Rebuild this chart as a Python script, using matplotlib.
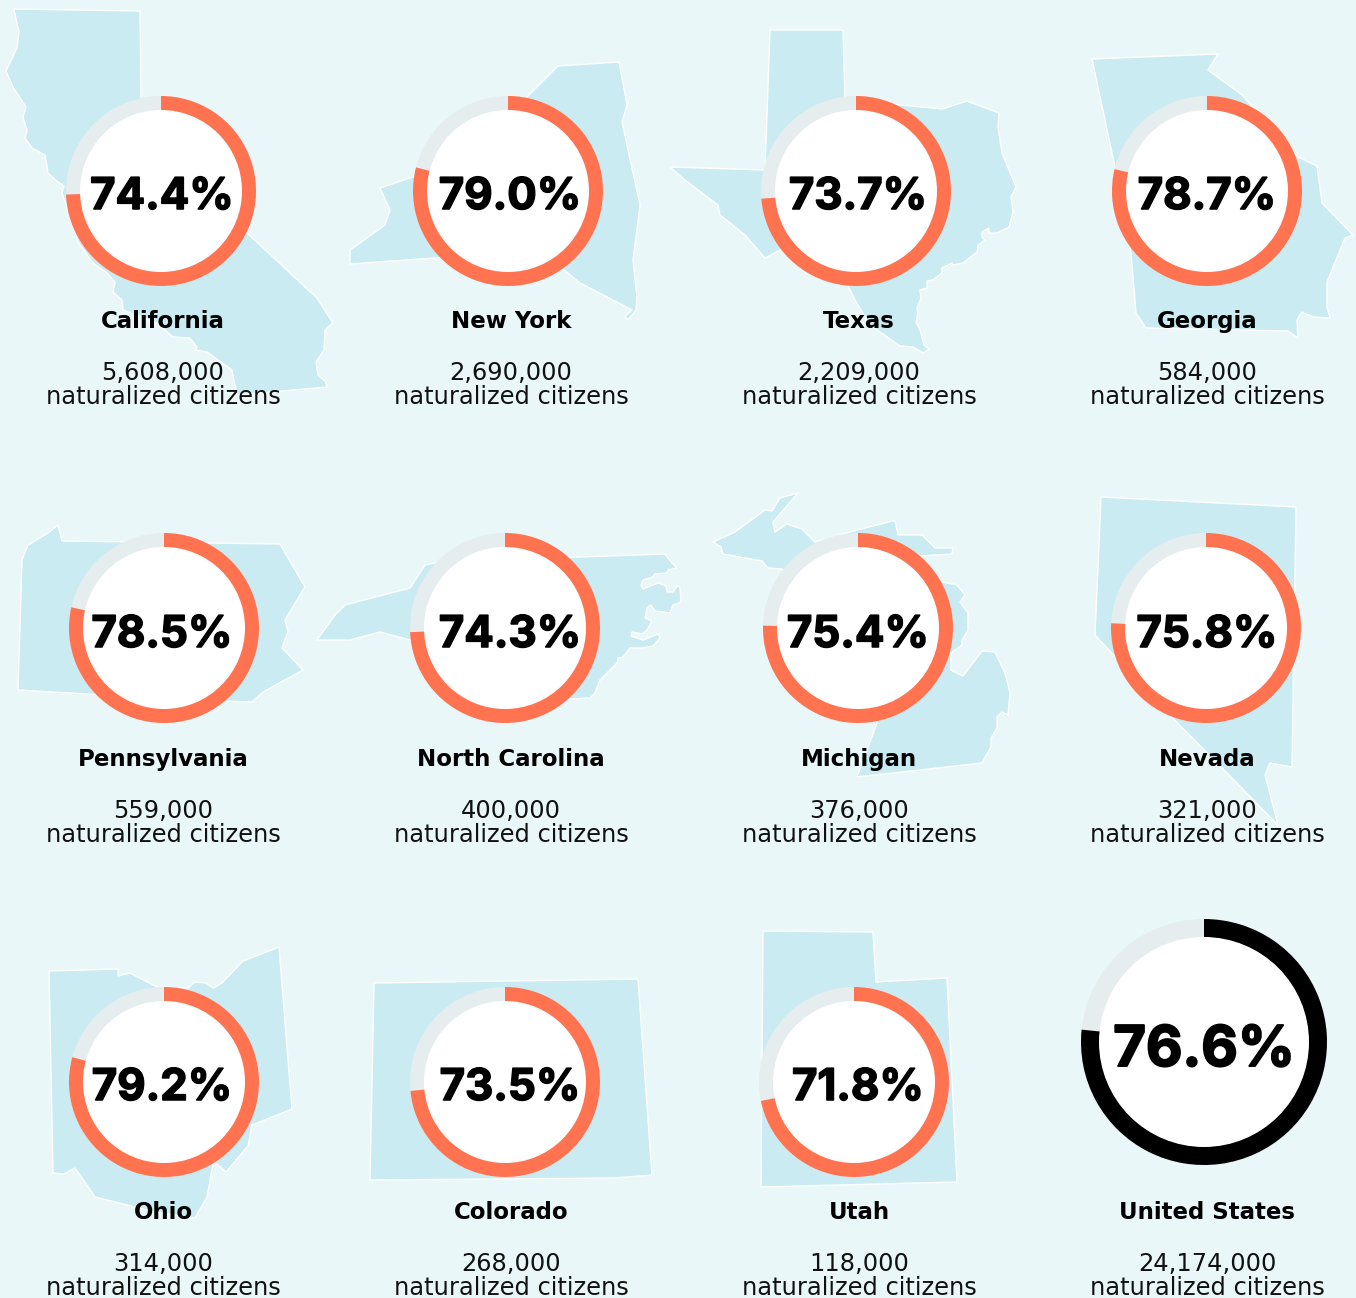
import matplotlib
matplotlib.use("Agg")
import matplotlib.pyplot as plt
from matplotlib.patches import Polygon, Wedge, Circle
import matplotlib.patheffects as pe

W, H = 1356, 1298
BG = "#E9F7F9"; STATE = "#CAEBF1"; GREY = "#E6EDEE"; ORANGE = "#FF7350"

names = ["California", "New York", "Texas", "Georgia",
         "Pennsylvania", "North Carolina", "Michigan", "Nevada",
         "Ohio", "Colorado", "Utah", "United States"]
percents = [74.4, 79.0, 73.7, 78.7, 78.5, 74.3, 75.4, 75.8, 79.2, 73.5, 71.8, 76.6]
counts = ["5,608,000", "2,690,000", "2,209,000", "584,000",
          "559,000", "400,000", "376,000", "321,000",
          "314,000", "268,000", "118,000", "24,174,000"]

ring_x = [161, 508, 856, 1207, 164, 505, 858, 1206, 164, 505, 854, 1204]
ring_y = [191, 191, 191, 191, 628, 628, 628, 628, 1082, 1082, 1082, 1042]
ring_outer = [95] * 11 + [123]
ring_inner = [81] * 11 + [105]
text_x = [163, 511, 859, 1207] * 3
pct_x = [162, 510, 858, 1207] * 3
pct_x[11] = 1204
pct_base = [209] * 4 + [647] * 4 + [1100] * 3 + [1066]
row_offset = [0] * 4 + [438] * 4 + [891] * 4

california = [(14,9),(140,11),(141,97),(200,190),(247,233),(317,298),(333,323),(325,330),(324,350),(316,362),(318,375),(326,382),(327,387),(237,395),(232,370),(207,352),(195,350),(197,347),(190,338),(173,337),(157,323),(123,310),(122,300),(113,292),(115,282),(107,273),(93,263),(78,242),(67,207),(62,193),(64,186),(58,182),(48,173),(45,155),(32,148),(25,138),(27,130),(23,117),(26,107),(13,87),(6,71),(17,48),(19,32)]
new_york = [(350,264),(350,250),(385,225),(390,210),(380,188),(413,177),(524,100),(558,66),(619,62),(627,105),(622,122),(640,205),(633,260),(637,298),(636,310),(628,320),(625,316),(632,310),(580,283),(540,250),(420,259)]
texas = [(770,30),(843,30),(845,100),(933,108),(942,109),(967,101),(999,113),(998,127),(1002,153),(1016,187),(1011,197),(1013,212),(1009,227),(997,233),(989,233),(989,228),(982,232),(982,237),(985,240),(978,245),(977,252),(963,263),(953,265),(952,263),(942,268),(942,273),(933,280),(927,281),(927,288),(920,290),(921,298),(917,308),(918,313),(916,322),(920,330),(924,345),(929,349),(923,353),(913,347),(900,346),(870,325),(855,300),(845,280),(810,260),(790,245),(765,258),(745,235),(720,215),(718,205),(685,180),(670,167),(765,170)]
georgia = [(1092,59),(1218,54),(1208,70),(1242,95),(1298,157),(1317,166),(1322,203),(1353,235),(1345,238),(1327,282),(1327,307),(1330,318),(1313,317),(1302,312),(1297,320),(1298,338),(1288,331),(1146,328),(1136,313),(1131,253),(1115,167)]
pennsylvania = [(28,545),(48,533),(58,525),(62,541),(280,544),(305,587),(285,620),(288,632),(282,648),(303,670),(263,692),(252,702),(190,700),(18,690),(22,560)]
north_carolina = [(317,640),(335,615),(345,605),(410,588),(425,565),(440,562),(665,554),(672,563),(677,568),(668,570),(667,573),(655,574),(653,577),(643,580),(641,585),(643,589),(658,583),(666,586),(667,592),(673,592),(677,586),(680,587),(681,602),(673,605),(670,613),(655,611),(651,605),(647,608),(645,618),(652,621),(647,630),(642,634),(632,632),(631,636),(643,640),(658,634),(660,638),(653,646),(642,648),(630,648),(623,657),(618,658),(617,663),(600,680),(595,693),(590,698),(550,700),(410,640),(380,632),(350,640)]
michigan_upper = [(713,542),(735,532),(765,510),(772,511),(780,498),(798,493),(773,522),(775,532),(787,524),(802,529),(815,542),(850,532),(892,521),(895,521),(898,535),(922,535),(935,548),(953,548),(952,554),(920,556),(850,600),(782,569),(768,568),(762,561),(723,554),(721,547)]
michigan_lower = [(942,582),(957,585),(965,595),(960,602),(968,613),(968,630),(962,640),(962,645),(951,653),(951,670),(963,676),(982,651),(995,652),(1005,673),(1010,693),(1008,715),(1002,712),(997,717),(997,728),(991,738),(991,747),(982,763),(857,777),(877,723),(880,650)]
nevada = [(1101,497),(1296,507),(1292,767),(1270,763),(1265,775),(1278,825),(1155,700),(1095,635)]
ohio = [(49,971),(118,969),(118,976),(130,973),(157,987),(188,988),(195,982),(206,983),(213,988),(222,983),(243,961),(279,947),(292,1109),(252,1125),(248,1146),(226,1172),(217,1164),(213,1164),(207,1197),(195,1218),(155,1212),(95,1197),(75,1168),(64,1174),(53,1173)]
colorado = [(374,983),(638,979),(652,1175),(615,1178),(370,1180)]
utah = [(763,931),(873,932),(876,982),(947,978),(957,1182),(761,1187)]
state_shapes = [california, new_york, texas, georgia, pennsylvania, north_carolina,
                michigan_upper, michigan_lower, nevada, ohio, colorado, utah]

fig = plt.figure(figsize=(W / 100, H / 100), dpi=100, facecolor=BG)
ax = fig.add_axes([0, 0, 1, 1])
ax.set_xlim(0, W); ax.set_ylim(H, 0); ax.axis("off")

for shape in state_shapes:
    ax.add_patch(Polygon(shape, closed=True, fc=STATE, ec="white", lw=1.0, zorder=1, joinstyle="round"))

for i, name in enumerate(names):
    c = (ring_x[i], ring_y[i]); R = ring_outer[i]; r = ring_inner[i]
    col = "black" if name == "United States" else ORANGE
    ax.add_patch(Circle(c, R, fc=GREY, ec="none", zorder=2))
    ax.add_patch(Wedge(c, R, -90, -90 + 3.6 * percents[i], fc=col, ec="none", zorder=3))
    ax.add_patch(Circle(c, r, fc="white", ec="none", zorder=4))
    us = name == "United States"
    ax.text(pct_x[i], pct_base[i], f"{percents[i]:.1f}%", ha="center", va="baseline", color="black",
            fontsize=40.5 if us else 31.5, family="Inter", weight="bold", zorder=5,
            path_effects=[pe.withStroke(linewidth=1.4 if us else 1.1, foreground="black")])
    off = row_offset[i]
    ax.text(text_x[i], 328 + off, name, ha="center", va="baseline", color="black",
            fontsize=16.5, family="DejaVu Sans", weight="bold", zorder=5)
    ax.text(text_x[i], 380 + off, counts[i], ha="center", va="baseline", color="#111111",
            fontsize=17.4, family="DejaVu Sans", zorder=5)
    ax.text(text_x[i], 404 + off, "naturalized citizens", ha="center", va="baseline", color="#111111",
            fontsize=17.4, family="DejaVu Sans", zorder=5)

fig.savefig("out.png", dpi=100, facecolor=BG)
